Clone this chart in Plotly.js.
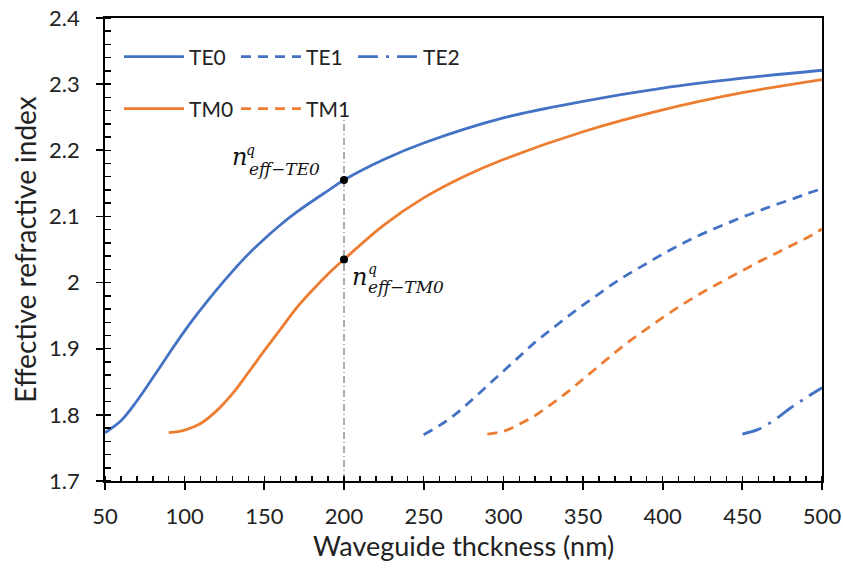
<!DOCTYPE html>
<html>
<head>
<meta charset="utf-8">
<script src="https://cdn.plot.ly/plotly-3.0.1.min.js"></script>
<style>html,body{margin:0;padding:0;background:#fff;}#chart{width:843px;height:568px;}</style>
</head>
<body>
<div id="chart"></div>
<script>
// ---- data ----
var te0X = [50, 60, 70, 80, 90, 100, 110, 120, 130, 140, 150, 160, 170, 180, 190, 200, 225, 250, 300, 350, 400, 450, 500];
var te0Y = [1.773, 1.791, 1.821, 1.856, 1.892, 1.927, 1.959, 1.989, 2.017, 2.043, 2.066, 2.087, 2.106, 2.123, 2.139, 2.155, 2.186, 2.211, 2.249, 2.274, 2.294, 2.309, 2.321];

var te1X = [250, 260, 270, 280, 290, 300, 310, 320, 330, 340, 350, 360, 370, 380, 390, 400, 410, 420, 430, 440, 450, 460, 470, 480, 490, 500];
var te1Y = [1.770, 1.784, 1.801, 1.822, 1.844, 1.866, 1.888, 1.910, 1.929, 1.948, 1.966, 1.983, 2.000, 2.015, 2.029, 2.043, 2.056, 2.068, 2.079, 2.089, 2.099, 2.108, 2.117, 2.125, 2.134, 2.142];

var te2X = [450, 460, 470, 480, 490, 500];
var te2Y = [1.771, 1.778, 1.792, 1.810, 1.826, 1.841];

var tm0X = [90, 100, 110, 120, 130, 140, 150, 160, 170, 180, 190, 200, 225, 250, 275, 300, 350, 400, 450, 500];
var tm0Y = [1.773, 1.777, 1.787, 1.806, 1.832, 1.864, 1.897, 1.929, 1.961, 1.988, 2.013, 2.035, 2.087, 2.128, 2.160, 2.186, 2.228, 2.261, 2.287, 2.307];

var tm1X = [290, 300, 310, 320, 330, 340, 350, 360, 370, 380, 390, 400, 410, 420, 430, 440, 450, 460, 470, 480, 490, 500];
var tm1Y = [1.771, 1.775, 1.786, 1.799, 1.816, 1.834, 1.854, 1.874, 1.894, 1.913, 1.930, 1.947, 1.963, 1.978, 1.992, 2.005, 2.018, 2.031, 2.043, 2.055, 2.067, 2.081];

var markerX = [200, 200];
var markerY = [2.155, 2.035];
var guideX = [200, 200];
var guideY = [1.7, 2.246];

var xTickVals = [50, 100, 150, 200, 250, 300, 350, 400, 450, 500];
var yTickVals = [1.7, 1.8, 1.9, 2.0, 2.1, 2.2, 2.3, 2.4];
var yTickText = ['1.7', '1.8', '1.9', '2', '2.1', '2.2', '2.3', '2.4'];

// ---- styling ----
var BLUE = '#4472C4', ORANGE = '#ED7D31';
var FONT = 'Lato, "Open Sans", sans-serif';
var SERIF = '"DejaVu Serif", "Liberation Serif", serif';
var LW = 2.8;

var traces = [
  {x: te0X, y: te0Y, name: 'TE0', mode: 'lines', line: {color: BLUE, width: LW, shape: 'spline', smoothing: 1}, legend: 'legend'},
  {x: te1X, y: te1Y, name: 'TE1', mode: 'lines', line: {color: BLUE, width: LW, dash: '10px,7px', shape: 'spline', smoothing: 1}, legend: 'legend'},
  {x: te2X, y: te2Y, name: 'TE2', mode: 'lines', line: {color: BLUE, width: LW, dash: '20px,8px,3px,8px', shape: 'spline', smoothing: 1}, legend: 'legend'},
  {x: tm0X, y: tm0Y, name: 'TM0', mode: 'lines', line: {color: ORANGE, width: LW, shape: 'spline', smoothing: 1}, legend: 'legend2'},
  {x: tm1X, y: tm1Y, name: 'TM1', mode: 'lines', line: {color: ORANGE, width: LW, dash: '10px,7px', shape: 'spline', smoothing: 1}, legend: 'legend2'},
  {x: guideX, y: guideY, mode: 'lines', showlegend: false, hoverinfo: 'skip', line: {color: '#595959', width: 1, dash: '7px,3px,1px,3px'}},
  {x: markerX, y: markerY, mode: 'markers', showlegend: false, marker: {color: '#000', size: 8}}
];

function ann(x, y, text, size, xanchor) {
  return {x: x, y: y, xref: 'x', yref: 'y', text: text, showarrow: false,
          xanchor: xanchor, yanchor: 'middle', font: {family: SERIF, size: size, color: '#111'}};
}

var legendCommon = {
  orientation: 'h', xanchor: 'left', yanchor: 'middle',
  entrywidth: 42, entrywidthmode: 'pixels', bgcolor: 'rgba(0,0,0,0)',
  font: {family: FONT, size: 21, color: '#222'}, itemwidth: 60
};

var layout = {
  width: 843, height: 568,
  margin: {l: 105, r: 21, t: 18, b: 87},
  paper_bgcolor: '#fff', plot_bgcolor: '#fff',
  font: {family: FONT, color: '#222'},
  showlegend: true,
  xaxis: {
    range: [50, 500], tickmode: 'array', tickvals: xTickVals,
    showgrid: false, zeroline: false,
    showline: true, linecolor: '#000', linewidth: 1.8, mirror: true,
    ticks: 'outside', ticklen: 7, tickwidth: 1.8, tickcolor: '#000',
    minor: {dtick: 10, ticks: 'inside', ticklen: 5, tickwidth: 1.5, tickcolor: '#000', showgrid: false},
    tickfont: {family: FONT, size: 22, color: '#222'},
    ticklabelstandoff: 8,
    title: {text: 'Waveguide thckness (nm)', font: {family: FONT, size: 27, color: '#222'}, standoff: 8}
  },
  yaxis: {
    range: [1.7, 2.4], tickmode: 'array', tickvals: yTickVals, ticktext: yTickText,
    showgrid: false, zeroline: false,
    showline: true, linecolor: '#000', linewidth: 1.8, mirror: true,
    ticks: 'outside', ticklen: 7, tickwidth: 1.8, tickcolor: '#000',
    minor: {dtick: 0.02, ticks: 'inside', ticklen: 6, tickwidth: 1.5, tickcolor: '#000', showgrid: false},
    tickfont: {family: FONT, size: 22, color: '#222'},
    ticklabelstandoff: 12,
    title: {text: 'Effective refractive index', font: {family: FONT, size: 28, color: '#222'}, standoff: 4}
  },
  xaxis2: {
    range: [50, 500], overlaying: 'x', anchor: 'y', side: 'bottom', showgrid: false, zeroline: false,
    showline: false, tickmode: 'array', tickvals: xTickVals, ticks: 'inside', ticklen: 7, tickwidth: 1.8,
    tickcolor: '#000', showticklabels: false
  },
  yaxis2: {
    range: [1.7, 2.4], overlaying: 'y', anchor: 'x', side: 'left', showgrid: false, zeroline: false,
    showline: false, tickmode: 'array', tickvals: yTickVals, ticks: 'inside', ticklen: 7, tickwidth: 1.8,
    tickcolor: '#000', showticklabels: false
  },
  legend: Object.assign({x: 0.0195, y: 0.9158}, legendCommon),
  legend2: Object.assign({x: 0.0195, y: 0.8035}, legendCommon),
  annotations: [
    ann(134.7, 2.190, '<i>n</i>', 24, 'center'),
    ann(141.6, 2.2004, '<i>q</i>', 14, 'center'),
    ann(139.0, 2.172, '<i>eff−TE0</i>', 17, 'left'),
    ann(210.0, 2.008, '<i>n</i>', 24, 'center'),
    ann(217.9, 2.020, '<i>q</i>', 14, 'center'),
    ann(213.8, 1.994, '<i>eff−TM0</i>', 17, 'left')
  ]
};

Plotly.newPlot('chart', traces, layout, {displayModeBar: false, staticPlot: true});
</script>
</body>
</html>
